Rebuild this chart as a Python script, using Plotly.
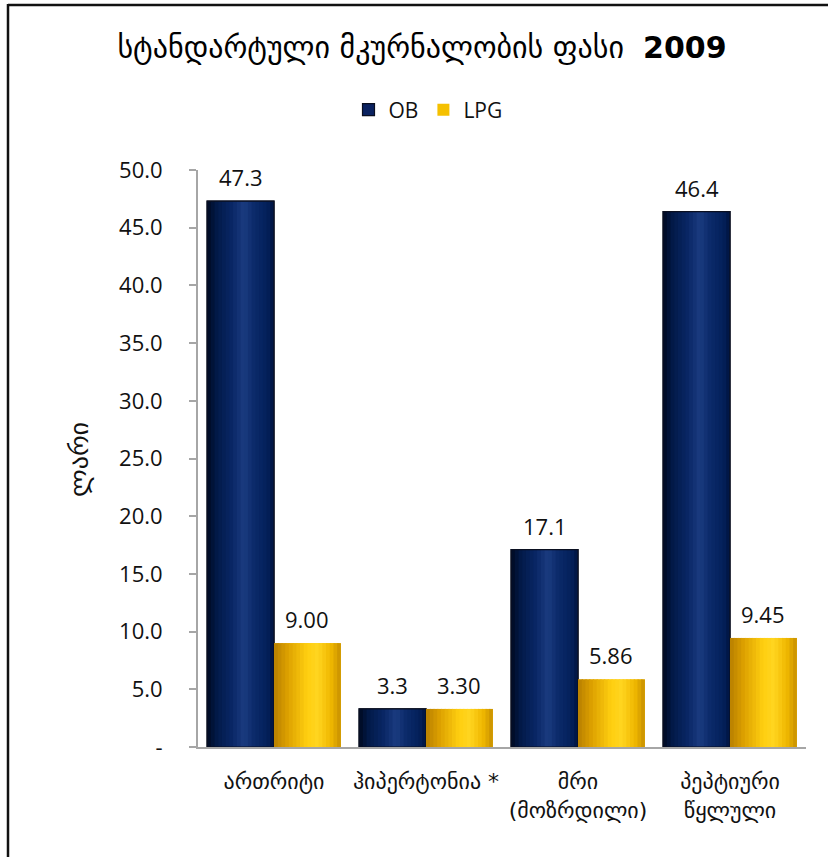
import plotly.graph_objects as go

# Treatment cost by condition, 2009 (GEL)
categories = ["ართრიტი", "ჰიპერტონია *", "მრი<br>(მოზრდილი)", "პეპტიური<br>წყლული"]
ob_values = [47.3, 3.3, 17.1, 46.4]
lpg_values = [9.00, 3.30, 5.86, 9.45]
y_ticks = [0, 5, 10, 15, 20, 25, 30, 35, 40, 45, 50]
y_tick_labels = ["-", "5.0", "10.0", "15.0", "20.0", "25.0", "30.0", "35.0", "40.0", "45.0", "50.0"]

W, H = 828, 857
ML, MR, MT, MB = 198, 22, 170, 110
PW, PH = W - ML - MR, H - MT - MB

FONT = "Open Sans, DejaVu Sans, sans-serif"
GEO_FONT = "DejaVu Sans, sans-serif"

BAR_W = 0.44
x_pos = list(range(len(categories)))


def px_to_paper_x(px):
    return (px - ML) / PW


def px_to_paper_y(py):
    return (H - MB - py) / PH


def hex_to_rgb(h):
    h = h.lstrip("#")
    return tuple(int(h[i:i + 2], 16) for i in (0, 2, 4))


def ramp(stops, t):
    for (t0, c0), (t1, c1) in zip(stops, stops[1:]):
        if t0 <= t <= t1:
            f = 0 if t1 == t0 else (t - t0) / (t1 - t0)
            a, b = hex_to_rgb(c0), hex_to_rgb(c1)
            return "rgb(%d,%d,%d)" % tuple(round(a[i] + (b[i] - a[i]) * f) for i in range(3))
    return stops[-1][1]


# cylinder-like shading across each bar
ob_stops = [(0.0, "#000a22"), (0.15, "#021a4a"), (0.38, "#0a2766"), (0.55, "#1b3c80"),
            (0.7, "#0b2a6a"), (0.9, "#04205a"), (1.0, "#001440")]
lpg_stops = [(0.0, "#b88000"), (0.2, "#dca000"), (0.5, "#ffcf10"), (0.65, "#ffd520"),
             (0.85, "#f0b800"), (1.0, "#c89000")]

series = [
    ("OB", ob_values, -BAR_W, ob_stops, "#0a2260", "#0a0f20", 1.2, "%.1f"),
    ("LPG", lpg_values, 0.0, lpg_stops, "#f5c000", "#f5c000", 0, "%.2f"),
]

N_SLICES = 18
fig = go.Figure()
annotations = []

for name, vals, off, stops, base, edge, edge_w, fmt in series:
    # base bar (also provides the legend swatch)
    fig.add_trace(go.Bar(
        x=x_pos, y=vals, name=name, width=BAR_W, offset=off,
        marker=dict(color=base, line=dict(color=edge if edge_w else base, width=edge_w)),
        showlegend=True, hoverinfo="skip",
    ))
    dw = BAR_W / N_SLICES
    for k in range(N_SLICES):
        t = (k + 0.5) / N_SLICES
        w = dw * 1.35 if k < N_SLICES - 1 else dw
        fig.add_trace(go.Bar(
            x=x_pos, y=vals, width=w, offset=off + k * dw,
            marker=dict(color=ramp(stops, t), line=dict(width=0)),
            showlegend=False, hoverinfo="skip",
        ))
    if edge_w:
        fig.add_trace(go.Bar(
            x=x_pos, y=vals, width=BAR_W, offset=off,
            marker=dict(color="rgba(0,0,0,0)", line=dict(color=edge, width=edge_w)),
            showlegend=False, hoverinfo="skip",
        ))
    for xi, v in zip(x_pos, vals):
        annotations.append(dict(
            x=xi + off + BAR_W / 2, y=v, xref="x", yref="y",
            text=fmt % v, showarrow=False, yanchor="bottom", yshift=7,
            font=dict(family=FONT, size=22, color="#111"),
        ))

# y-axis title
annotations.append(dict(
    x=px_to_paper_x(62), y=px_to_paper_y(460), xref="paper", yref="paper",
    text="ლარი", textangle=-90, showarrow=False,
    font=dict(family=GEO_FONT, size=26, color="#111"),
))

# frame line along the top and left edges
shapes = [
    dict(type="line", xref="paper", yref="paper",
         x0=px_to_paper_x(8), y0=px_to_paper_y(5), x1=px_to_paper_x(W + 5), y1=px_to_paper_y(5),
         line=dict(color="#111", width=2.5)),
    dict(type="line", xref="paper", yref="paper",
         x0=px_to_paper_x(8), y0=px_to_paper_y(4), x1=px_to_paper_x(8), y1=px_to_paper_y(H + 5),
         line=dict(color="#111", width=2.5)),
]

fig.update_layout(
    width=W, height=H,
    margin=dict(l=ML, r=MR, t=MT, b=MB),
    paper_bgcolor="white", plot_bgcolor="white",
    barmode="overlay",
    title=dict(
        text="სტანდარტული მკურნალობის ფასი&nbsp;&nbsp;<b>2009</b>",
        x=px_to_paper_x(422), xref="paper", xanchor="center",
        y=1 - 47 / H, yref="container", yanchor="middle",
        font=dict(family=GEO_FONT, size=30, color="#000"),
    ),
    legend=dict(
        orientation="h", x=px_to_paper_x(428), xanchor="center",
        y=px_to_paper_y(110), yanchor="middle",
        font=dict(family=FONT, size=21, color="#111"),
        bgcolor="rgba(0,0,0,0)", itemclick=False,
    ),
    xaxis=dict(
        range=[-0.5, len(categories) - 0.5],
        tickmode="array", tickvals=x_pos, ticktext=categories,
        tickfont=dict(family=GEO_FONT, size=22, color="#111"),
        showline=True, linecolor="#a6a6a6", linewidth=2,
        ticks="", showgrid=False, zeroline=False, fixedrange=True,
        ticklabelstandoff=14,
    ),
    yaxis=dict(
        range=[0, 50],
        tickmode="array", tickvals=y_ticks, ticktext=y_tick_labels,
        tickfont=dict(family=FONT, size=22, color="#111"),
        showline=True, linecolor="#a6a6a6", linewidth=2,
        ticks="outside", ticklen=7, tickcolor="#a6a6a6", tickwidth=2,
        ticklabelstandoff=22,
        showgrid=False, zeroline=False, fixedrange=True,
    ),
    annotations=annotations,
    shapes=shapes,
)

fig.write_html("out.html")
